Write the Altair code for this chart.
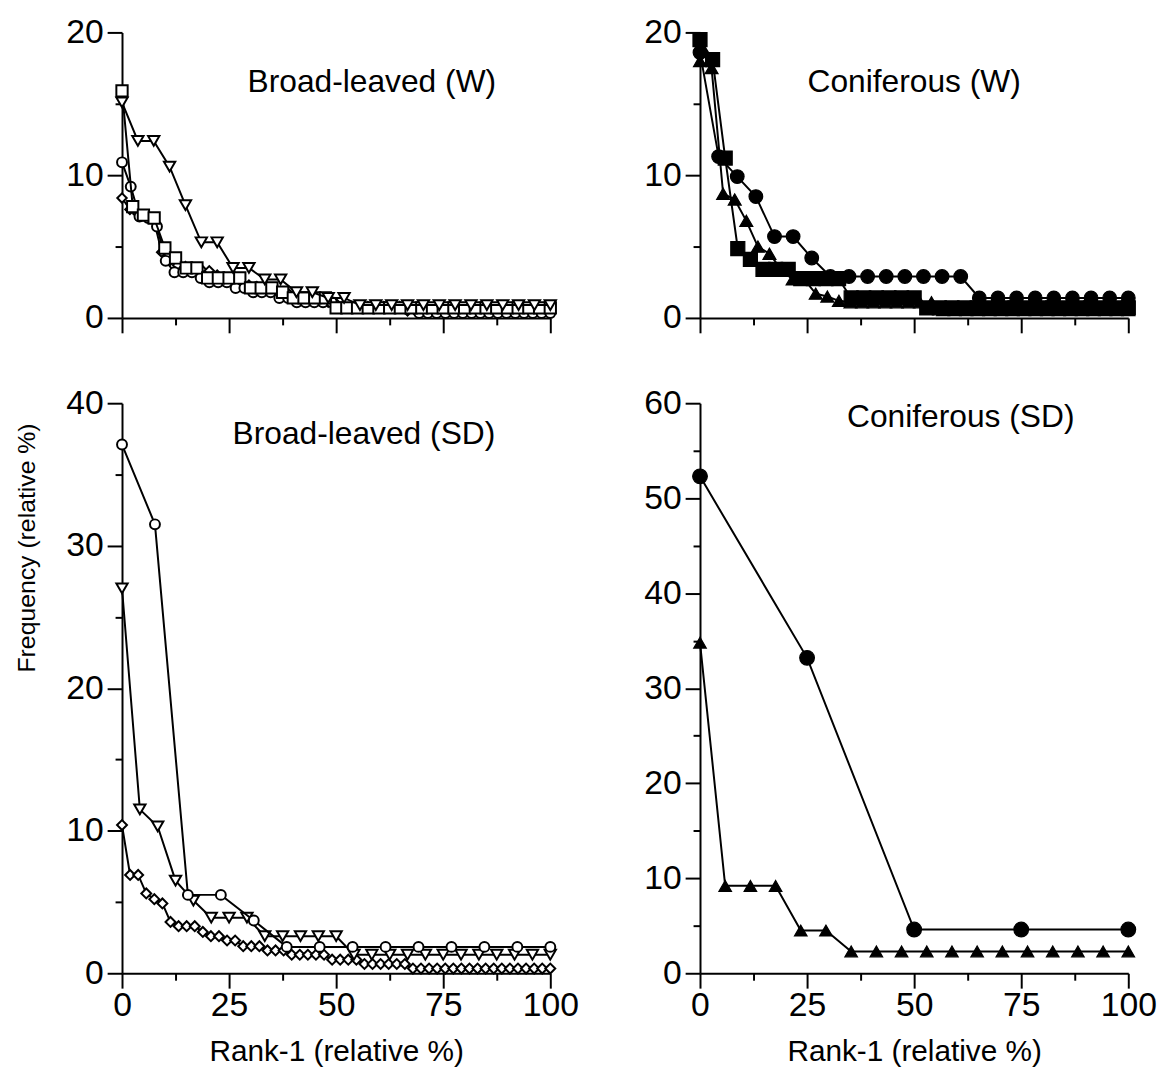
import altair as alt
import pandas as pd

FONT = "Liberation Sans"

# ---- Broad-leaved (W) ----
bw_circle = [10.9, 9.2, 7.1, 7.0, 6.4, 4.0, 3.2, 3.2, 3.2, 2.8, 2.5, 2.5, 2.5, 2.1, 2.1,
             1.8, 1.8, 1.8, 1.4, 1.4, 1.1, 1.1, 1.1, 1.1, 1.1,
             0.7, 0.7, 0.7, 0.7, 0.7, 0.7, 0.7, 0.7, 0.7,
             0.35, 0.35, 0.35, 0.35, 0.35, 0.35, 0.35, 0.35, 0.35, 0.35, 0.35, 0.35, 0.35, 0.35, 0.35, 0.35]
bw_square = [15.9, 7.8, 7.2, 7.0, 4.9, 4.2, 3.5, 3.5, 2.8, 2.8, 2.8, 2.8, 2.1, 2.1, 2.1, 1.8,
             1.4, 1.4, 1.4, 1.4,
             0.7, 0.7, 0.7, 0.7, 0.7, 0.7, 0.7, 0.7, 0.7, 0.7, 0.7, 0.7, 0.7, 0.7, 0.7, 0.7,
             0.7, 0.7, 0.7, 0.7, 0.7]
bw_tri = [15.1, 12.4, 12.4, 10.6, 7.9, 5.3, 5.3, 3.5, 3.5, 2.7, 2.7, 1.8, 1.8, 1.4, 1.4,
          0.9, 0.9, 0.9, 0.9, 0.9, 0.9, 0.9, 0.9, 0.9, 0.9, 0.9, 0.9, 0.9]
bw_diamond = [8.4, 7.6, 7.3, 7.1, 6.9, 4.6, 4.0, 3.7, 3.6, 3.5, 3.4, 3.3, 3.0, 2.8, 2.6,
              2.5, 2.3, 2.2, 2.0, 1.9, 1.8, 1.7, 1.5, 1.4, 1.3, 1.2, 1.1, 1.0,
              0.8, 0.8, 0.8, 0.8, 0.8, 0.8, 0.8, 0.8,
              0.5, 0.5, 0.5, 0.5, 0.5, 0.5, 0.5, 0.5, 0.5, 0.5, 0.5, 0.5, 0.5, 0.5, 0.5,
              0.5, 0.5, 0.5, 0.5]

# ---- Coniferous (W) ----
cw_circle = [18.6, 11.3, 9.9, 8.5, 5.7, 5.7, 4.2,
             2.9, 2.9, 2.9, 2.9, 2.9, 2.9, 2.9, 2.9,
             1.4, 1.4, 1.4, 1.4, 1.4, 1.4, 1.4, 1.4, 1.4]
cw_square = [19.5, 18.1, 11.2, 4.85, 4.1, 3.4, 3.4, 3.4, 2.75, 2.75, 2.75, 2.75,
             1.4, 1.4, 1.4, 1.4, 1.4, 1.4,
             0.7, 0.7, 0.7, 0.7, 0.7, 0.7, 0.7, 0.7, 0.7, 0.7, 0.7, 0.7, 0.7, 0.7, 0.7, 0.7, 0.7]
cw_tri = [18.0, 17.5, 8.7, 8.3, 6.8, 5.0, 4.5, 3.4, 2.7, 2.7, 1.7, 1.5, 1.2,
          1.1, 1.1, 1.1, 1.1, 1.1, 1.1, 1.1, 1.1,
          0.55, 0.55, 0.55, 0.55, 0.55, 0.55, 0.55, 0.55, 0.55, 0.55, 0.55, 0.55,
          0.55, 0.55, 0.55, 0.55, 0.55]

# ---- Broad-leaved (SD) ----
bsd_circle = [37.1, 31.5, 5.5, 5.5, 3.7, 1.85, 1.85, 1.85, 1.85, 1.85, 1.85, 1.85, 1.85, 1.85]
bsd_tri = [27.0, 11.5, 10.3, 6.5, 5.1, 3.9, 3.9, 3.9, 2.6, 2.6, 2.6, 2.6, 2.6,
           1.3, 1.3, 1.3, 1.3, 1.3, 1.3, 1.3, 1.3, 1.3, 1.3, 1.3, 1.3]
bsd_diamond = [10.4, 6.9, 6.9, 5.6, 5.2, 4.9, 3.6, 3.3, 3.3, 3.3, 2.9, 2.6, 2.6, 2.3, 2.3,
               1.9, 1.9, 1.9, 1.6, 1.6, 1.6, 1.3, 1.3, 1.3, 1.3, 1.3,
               0.95, 0.95, 0.95, 0.95,
               0.65, 0.65, 0.65, 0.65, 0.65, 0.65,
               0.33, 0.33, 0.33, 0.33, 0.33, 0.33, 0.33, 0.33, 0.33, 0.33, 0.33, 0.33,
               0.33, 0.33, 0.33, 0.33, 0.33, 0.33]

# ---- Coniferous (SD) ----
csd_circle = [52.3, 33.2, 4.6, 4.6, 4.6]
csd_tri = [34.8, 9.2, 9.2, 9.2, 4.5, 4.5,
           2.3, 2.3, 2.3, 2.3, 2.3, 2.3, 2.3, 2.3, 2.3, 2.3, 2.3, 2.3]

X_VALUES = [0, 12.5, 25, 37.5, 50, 62.5, 75, 87.5, 100]

TICK_FS = 34
PANEL_FS = 32
TITLE_FS = 30
YTITLE_FS = 25


def frame(vals):
    n = len(vals)
    return pd.DataFrame({"rank": [i * 100.0 / (n - 1) for i in range(n)], "freq": vals})


def make_axes(ymax, show_x_labels):
    yvals = list(range(0, ymax + 1, 5))
    yaxis = alt.Axis(
        values=yvals,
        labelExpr="datum.value % 10 === 0 ? datum.label : ''",
        tickSize={"condition": {"test": "datum.value % 10 === 0", "value": 15}, "value": 7},
        title=None, grid=False, domainColor="black", domainWidth=2,
        tickColor="black", tickWidth=2, labelFont=FONT, labelFontSize=TICK_FS,
        labelColor="black", labelPadding=4,
    )
    if show_x_labels:
        xaxis = alt.Axis(
            values=X_VALUES,
            labelExpr="datum.value % 25 === 0 ? datum.label : ''",
            tickSize={"condition": {"test": "datum.value % 25 === 0", "value": 15}, "value": 7},
            title="Rank-1 (relative %)",
            grid=False, domainColor="black", domainWidth=2,
            tickColor="black", tickWidth=2, labelFont=FONT, labelFontSize=TICK_FS,
            labelColor="black", labelPadding=1, labelFlush=False,
            titleFont=FONT, titleFontSize=TITLE_FS, titleFontWeight="normal",
            titleColor="black", titlePadding=14,
        )
    else:
        xaxis = alt.Axis(
            values=X_VALUES, labels=False,
            tickSize={"condition": {"test": "datum.value % 25 === 0", "value": 15}, "value": 7},
            title=None, grid=False, domainColor="black", domainWidth=2,
            tickColor="black", tickWidth=2,
        )
    return xaxis, yaxis


def series(vals, shape, filled, size, ymax, xaxis, yaxis):
    df = frame(vals)
    base = alt.Chart(df).encode(
        x=alt.X("rank:Q", scale=alt.Scale(domain=[0, 100], nice=False), axis=xaxis),
        y=alt.Y("freq:Q", scale=alt.Scale(domain=[0, ymax], nice=False), axis=yaxis),
    )
    line = base.mark_line(color="black", strokeWidth=2)
    pts = base.mark_point(
        shape=shape, filled=True, size=size,
        fill=("black" if filled else "white"), stroke="black",
        strokeWidth=(1.2 if filled else 2), opacity=1,
    )
    return [line, pts]


def label(text, px, py):
    return alt.Chart(pd.DataFrame({"t": [text]})).mark_text(
        font=FONT, fontSize=PANEL_FS, color="black", align="center", baseline="middle"
    ).encode(text="t:N", x=alt.value(px), y=alt.value(py))


def panel(spec, ymax, height, show_x, title, tx, ty, extra=None):
    xaxis, yaxis = make_axes(ymax, show_x)
    layers = []
    for vals, shape, filled, size in spec:
        layers += series(vals, shape, filled, size, ymax, xaxis, yaxis)
    layers.append(label(title, tx, ty))
    if extra is not None:
        layers.append(extra)
    return alt.layer(*layers).properties(
        width=432, height=height, view=alt.ViewBackground(stroke=None, strokeWidth=0)
    )


tl = panel([
    (bw_diamond, "diamond", False, 90),
    (bw_circle, "circle", False, 100),
    (bw_square, "square", False, 130),
    (bw_tri, "triangle-down", False, 130),
], 20, 288, False, "Broad-leaved (W)", 252, 50)

tr = panel([
    (cw_tri, "triangle-up", True, 170),
    (cw_square, "square", True, 200),
    (cw_circle, "circle", True, 190),
], 20, 288, False, "Coniferous (W)", 216, 50)

ytitle = alt.Chart(pd.DataFrame({"t": ["Frequency (relative %)"]})).mark_text(
    font=FONT, fontSize=YTITLE_FS, color="black", align="center", baseline="middle", angle=270
).encode(text="t:N", x=alt.value(-96), y=alt.value(146))

bl = panel([
    (bsd_diamond, "diamond", False, 100),
    (bsd_tri, "triangle-down", False, 130),
    (bsd_circle, "circle", False, 100),
], 40, 575, True, "Broad-leaved (SD)", 244, 31, extra=ytitle)

br = panel([
    (csd_tri, "triangle-up", True, 160),
    (csd_circle, "circle", True, 220),
], 60, 575, True, "Coniferous (SD)", 263, 14)

chart = alt.concat(tl, tr, bl, br, columns=2, spacing={"row": 52, "column": 65}).properties(
    padding={"left": 7, "top": 3, "right": 5, "bottom": 5}, background="white"
).configure_view(stroke=None, strokeWidth=0)

chart.save("out.html", embed_options={"renderer": "svg", "actions": False})
